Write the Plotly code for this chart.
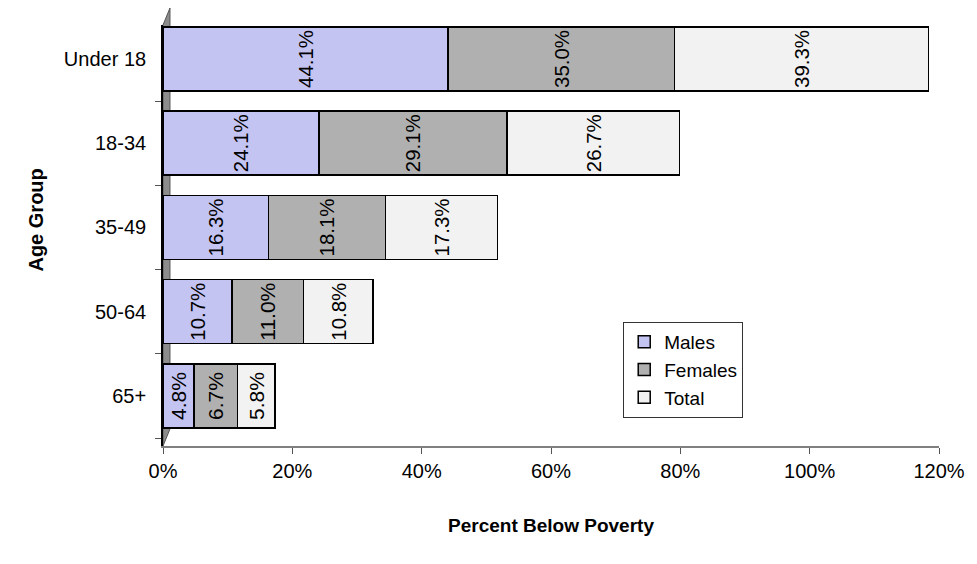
import plotly.graph_objects as go

categories = ["65+", "50-64", "35-49", "18-34", "Under 18"]
males = [0.048, 0.107, 0.163, 0.241, 0.441]
females = [0.067, 0.110, 0.181, 0.291, 0.350]
total = [0.058, 0.108, 0.173, 0.267, 0.393]
series = [("Males", males, "#C4C4F2"), ("Females", females, "#B0B0B0"), ("Total", total, "#F2F2F2")]
x_ticks = [0, 0.2, 0.4, 0.6, 0.8, 1.0, 1.2]
x_labels = ["0%", "20%", "40%", "60%", "80%", "100%", "120%"]

FONT = "Liberation Sans, Arial, sans-serif"
W, H = 977, 564
ML, MR, MT, MB = 163, 35, 25, 118

fig = go.Figure()
for name, vals, col in series:
    fig.add_trace(go.Bar(
        y=categories, x=vals, name=name, orientation="h",
        marker=dict(color=col, line=dict(color="black", width=1.5)),
        texttemplate="%{x:.1%}", textposition="inside", insidetextanchor="middle",
        textangle=-90, textfont=dict(family=FONT, size=21, color="black"),
        width=0.76, cliponaxis=False,
    ))

# 3D-style left wall (decoration)
pw = W - ML - MR
ph = H - MT - MB
dx = 7 / pw
dy = 17 / ph
fig.add_shape(type="path", xref="paper", yref="paper",
              path=f"M 0 0 L 0 1 L {dx} {1+dy} L {dx} {dy} Z",
              fillcolor="#8C8C8C", line=dict(color="#555555", width=1), layer="below")

fig.add_annotation(text="<b>Age Group</b>", xref="paper", yref="paper",
                   x=(22 - ML) / pw, y=(H - MB - 220) / ph, textangle=-90,
                   showarrow=False, font=dict(family=FONT, size=20, color="black"))

fig.update_layout(
    barmode="stack", bargap=0.24,
    width=W, height=H,
    margin=dict(l=ML, r=MR, t=MT, b=MB, pad=0),
    plot_bgcolor="white", paper_bgcolor="white",
    font=dict(family=FONT, size=20, color="black"),
    legend=dict(x=(625 - ML) / pw, y=(H - MB - 322) / ph, xanchor="left", yanchor="top",
                bordercolor="#333333", borderwidth=1, bgcolor="white",
                font=dict(family=FONT, size=19), traceorder="normal",
                itemwidth=30),
    xaxis=dict(range=[0, 1.2], tickvals=x_ticks, ticktext=x_labels,
               showgrid=False, zeroline=False, showline=True, linecolor="#808080", linewidth=1.5,
               ticks="outside", ticklen=6, tickcolor="#555555",
               title=dict(text="<b>Percent Below Poverty</b>", standoff=38,
                          font=dict(family=FONT, size=19))),
    yaxis=dict(categoryorder="array", categoryarray=categories, range=[-0.594, 4.403],
               showgrid=False, zeroline=False, showline=True, linecolor="black", linewidth=1.5,
               ticks="outside", ticklen=6, tickcolor="#555555", tickson="boundaries",
               ticksuffix="  "),
)

fig.write_html("out.html")
